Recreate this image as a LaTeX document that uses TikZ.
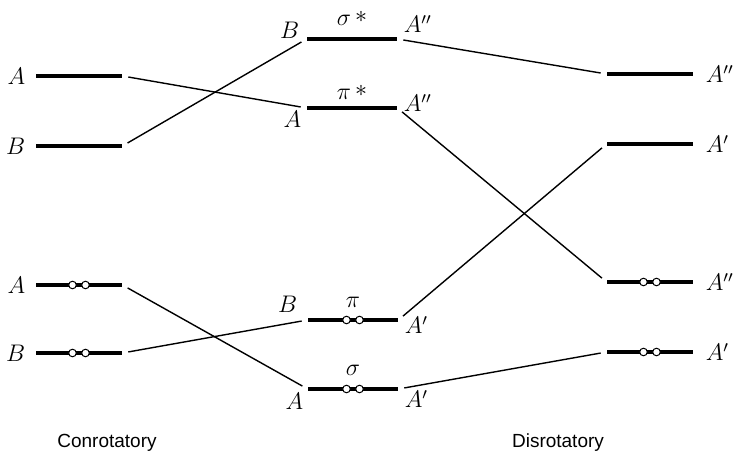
\documentclass[tikz,border=0pt]{standalone}
\usepackage{fontspec}
\newfontfamily\captionfont{Liberation Sans}
\usetikzlibrary{positioning}
\tikzset{
  orbital/.style={
    rectangle, fill=black, inner sep=0pt,
    minimum height=1.6pt, minimum width=#1
  },
  orbital/.default=43pt,
  sym/.style={font=\fontsize{12}{14}\selectfont, inner sep=0pt},
  link/.style={line width=0.7pt, shorten <=3pt, shorten >=3pt},
  pair/.style={draw=black, fill=white, line width=0.5pt},
  caption/.style={font=\captionfont\fontsize{9.5}{11}\selectfont}
}
\newcommand{\starred}[1]{$#1\,\raisebox{0.3ex}{$\ast$}$}

\begin{document}
\begin{tikzpicture}[x=0.5pt, y=-0.5pt]
  \useasboundingbox (0,0) rectangle (735,459);

  % left column (conrotatory)
  \node[orbital, label={[sym, xshift=-5pt]west:$A$}] (lA1) at (79,76) {};
  \node[orbital, label={[sym, xshift=-5pt]west:$B$}] (lB1) at (79,146) {};
  \node[orbital, label={[sym, xshift=-5pt]west:$A$}] (lA2) at (79,285) {};
  \node[orbital, label={[sym, xshift=-5pt]west:$B$}] (lB2) at (79,353) {};

  % middle column
  \node[orbital=45pt,
        label={[sym, anchor=base east, xshift=-3.5pt]west:$B$},
        label={[sym, anchor=base, yshift=5.5pt]north:\starred{\sigma}},
        label={[sym, anchor=base west, xshift=3pt, yshift=3pt]east:$A''$}] (sigs) at (352,39) {};
  \node[orbital=45pt,
        label={[sym, anchor=base east, xshift=-2.5pt, yshift=-10pt]west:$A$},
        label={[sym, anchor=base, yshift=3pt]north:\starred{\pi}},
        label={[sym, anchor=base west, xshift=3pt, yshift=-2pt]east:$A''$}] (pis) at (352,108) {};
  \node[orbital=45pt,
        label={[sym, anchor=base east, xshift=-5pt, yshift=3.5pt]west:$B$},
        label={[sym, yshift=5pt]north:$\pi$},
        label={[sym, anchor=base west, xshift=3pt, yshift=-7pt]east:$A'$}] (pi) at (353,320) {};
  \node[orbital=45pt,
        label={[sym, anchor=base east, xshift=-2pt, yshift=-10.5pt]west:$A$},
        label={[sym, yshift=5.5pt]north:$\sigma$},
        label={[sym, anchor=base west, xshift=3pt, yshift=-9.5pt]east:$A'$}] (sig) at (353,389) {};

  % right column (disrotatory)
  \node[orbital, label={[sym, xshift=6pt]east:$A''$}] (rA1) at (650,74) {};
  \node[orbital, label={[sym, xshift=6pt]east:$A'$}]  (rA2) at (650,144) {};
  \node[orbital, label={[sym, xshift=6pt]east:$A''$}] (rA3) at (650,282) {};
  \node[orbital, label={[sym, xshift=6pt]east:$A'$}]  (rA4) at (650,352) {};

  % correlation lines
  \draw[link] (lA1.east) -- (pis.west);
  \draw[link] (lB1.east) -- (sigs.west);
  \draw[link] (lA2.east) -- (sig.west);
  \draw[link] (lB2.east) -- (pi.west);
  \draw[link] (sigs.east) -- (rA1.west);
  \draw[link] (pis.east) -- (rA3.west);
  \draw[link] (pi.east) -- (rA2.west);
  \draw[link] (sig.east) -- (rA4.west);

  % electron pairs
  \foreach \o in {lA2, lB2, pi, sig, rA3, rA4} {
    \draw[pair] ([xshift=-3.25pt]\o.center) circle (1.9pt);
    \draw[pair] ([xshift=3.25pt]\o.center) circle (1.9pt);
  }

  \node[caption] (conrot) at (107,443) {Conrotatory};
  \node[caption] (disrot) at (558,443) {Disrotatory};
\end{tikzpicture}
\end{document}
